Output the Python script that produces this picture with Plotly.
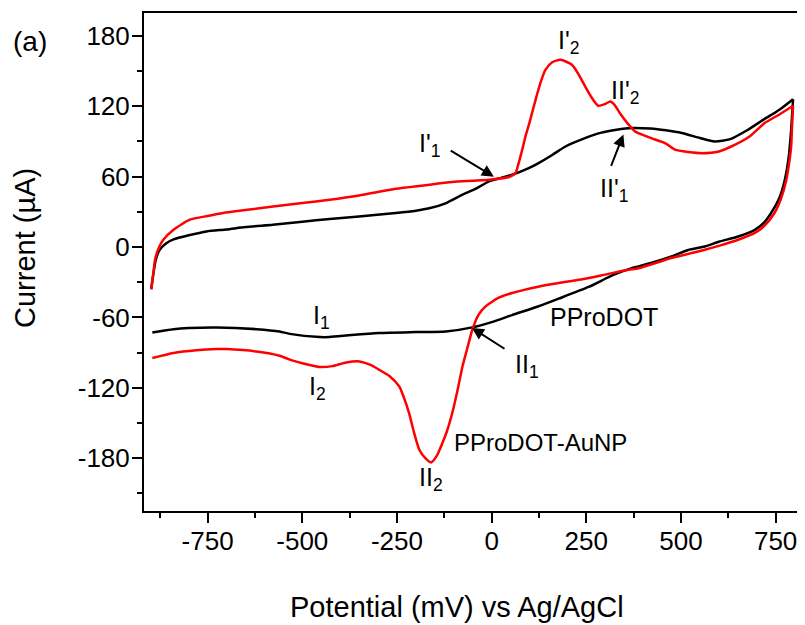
import plotly.graph_objects as go

# PProDOT (black) anodic and cathodic sweeps
ppro_fwd_x = [-899, -893, -887, -878, -860, -840, -800, -753, -700, -650, -578, -500, -428, -350, -253, -200,
              -165, -120, -77, -40, -7, 25, 54, 98, 124, 160, 195, 240, 290, 330, 370, 420, 460, 502, 550,
              589, 630, 677, 720, 760, 796]
ppro_fwd_y = [-36, -22, -11, -3, 3, 6.5, 10, 13.3, 15, 17, 19, 21.5, 24, 26, 29, 31,
              33, 37.5, 44.6, 50, 56, 59, 61.6, 67.3, 71.6, 78.5, 85.7, 92, 97.5, 100, 101.5, 101, 99.5, 97.2, 93,
              90, 92, 100, 109, 117, 126]
ppro_rev_x = [796, 793, 791, 785, 774, 760, 738, 720, 695, 651, 600, 563, 519, 475, 432, 388, 370, 320, 256,
              177, 124, 54, 0, -51, -121, -200, -297, -370, -428, -454, -533, -560, -621, -726, -800,
              -840, -896]
ppro_rev_y = [126, 110, 100, 78, 57, 42, 29, 21, 14.7, 9, 4.5, 0.5, -2.5, -8, -12.5, -16.5, -18, -24, -34,
              -44, -50.5, -58, -64, -68.5, -72, -72.5, -73.3, -75, -76.7, -76.7, -74, -72, -70, -68.5, -69,
              -70, -72.8]

# PProDOT-AuNP (red) anodic and cathodic sweeps
au_fwd_x = [-899, -893, -889, -878, -867, -840, -797, -750, -709, -650, -577, -500, -428, -350, -253, -180,
            -104, -50, -7, 46, 63, 70, 80, 90, 100, 116, 130, 142, 160, 182, 212, 230, 247, 265, 282, 300, 313,
            325, 339, 360, 379, 420, 458, 484, 520, 554, 600, 633, 680, 721, 760, 796]
au_fwd_y = [-36, -22, -11, 0, 6.2, 14.7, 23.3, 26.5, 29, 31.5, 34.6, 37.5, 40.3, 44, 49.7, 52.5,
            55.4, 56.5, 57.4, 59.7, 63, 70, 82, 95, 106, 125.5, 141, 151, 157.5, 159.6, 155.4, 147, 136.9, 127,
            120.4, 122, 124, 121, 114, 105, 98.5, 93, 88.6, 83, 81, 80, 81.5, 85.7, 94, 105.7, 113, 120.4]
au_rev_x = [796, 793, 791, 785, 778, 765, 747, 720, 695, 651, 600, 563, 475, 388, 361, 300, 240, 177, 120,
            54, 20, -16, -35, -51, -64, -77, -90, -104, -118, -130, -145, -160, -175, -191, -205, -218, -232,
            -244, -270, -297, -320, -349, -384, -420, -454, -463, -500, -533, -560, -621, -700, -726, -780,
            -840, -896]
au_rev_y = [120.4, 100, 85.7, 70, 57, 42, 29, 18, 12, 6.2, 1, -2.3, -9.4, -18, -19.4, -23.5, -27.5, -30.7,
            -34, -39.2, -43, -50.6, -58, -70.5, -86, -101.8, -122, -141.5, -157, -167, -178, -183.6, -180,
            -172.8, -158, -141.5, -128, -118.8, -110, -104.6, -100.5, -97.5, -98.4, -101.5, -102.3, -101.8, -99,
            -96, -92.6, -89, -87, -87, -88, -90.3, -94.6]

x_tick_vals = [-750, -500, -250, 0, 250, 500, 750]
x_tick_text = ["-750", "-500", "-250", "0", "250", "500", "750"]
y_tick_vals = [-180, -120, -60, 0, 60, 120, 180]
y_tick_text = ["-180", "-120", "-60", "0", "60", "120", "180"]

x_title = "Potential (mV) vs Ag/AgCl"
y_title = "Current (\u00b5A)"

FONT = "Arial, Liberation Sans, sans-serif"

fig = go.Figure()
for xs, ys, col in [(ppro_fwd_x, ppro_fwd_y, "black"), (ppro_rev_x, ppro_rev_y, "black"),
                    (au_fwd_x, au_fwd_y, "#ff0000"), (au_rev_x, au_rev_y, "#ff0000")]:
    fig.add_trace(go.Scatter(x=xs, y=ys, mode="lines", showlegend=False,
                             line=dict(color=col, width=2.5, shape="spline", smoothing=0.6)))

def sub(main, s):
    return f"{main}<sub>{s}</sub>"

labels = [
    (sub("I'", "2"), 203, 175, 25),
    (sub("II'", "2"), 353, 132, 25),
    (sub("I'", "1"), -165, 87, 25),
    (sub("II'", "1"), 322, 49, 25),
    (sub("I", "1"), -449, -60, 25),
    (sub("I", "2"), -460, -120, 25),
    (sub("II", "1"), 93, -101, 25),
    (sub("II", "2"), -160, -198, 25),
    ("PProDOT-AuNP", 128, -167, 24),
    ("PProDOT", 296, -60, 25),
]
for t, x, y, s in labels:
    fig.add_annotation(x=x, y=y, text=t, showarrow=False, xanchor="center", yanchor="middle",
                       font=dict(family=FONT, size=s, color="black"))

arrows = [((-112, 83), (6, 60)), ((314, 68), (348, 96)), ((38, -87.5), (-52, -69))]
for (tx, ty), (hx, hy) in arrows:
    fig.add_annotation(x=hx, y=hy, ax=tx, ay=ty, axref="x", ayref="y", text="", showarrow=True,
                       arrowhead=2, arrowsize=1.2, arrowwidth=2, arrowcolor="black")

fig.add_annotation(x=-0.173, y=0.942, xref="paper", yref="paper", text="(a)", showarrow=False,
                   xanchor="center", yanchor="middle",
                   font=dict(family=FONT, size=28, color="black"))

# axis titles (placed as in the reference, slightly off-centre)
fig.add_annotation(x=0.4765, y=-0.193, xref="paper", yref="paper", text=x_title, showarrow=False,
                   xanchor="center", yanchor="middle", font=dict(family=FONT, size=29, color="black"))
fig.add_annotation(x=-0.182, y=0.529, xref="paper", yref="paper", text=y_title, showarrow=False,
                   textangle=-90, xanchor="center", yanchor="middle",
                   font=dict(family=FONT, size=29, color="black"))

fig.update_layout(
    width=797, height=617,
    margin=dict(l=136, r=2, t=5, b=114),
    plot_bgcolor="white", paper_bgcolor="white",
    font=dict(family=FONT, size=26, color="black"),
    xaxis=dict(range=[-918, 817], tickvals=x_tick_vals, ticktext=x_tick_text, ticks="outside", ticklen=10,
               tickwidth=2, tickcolor="black",
               showline=True, linewidth=2, linecolor="black", mirror=True, showgrid=False, zeroline=False,
               tickfont=dict(family=FONT, size=26, color="black"), ticklabelstandoff=-4,
               minor=dict(tick0=-875, dtick=125, ticks="outside", ticklen=5, tickwidth=2, tickcolor="black")),
    yaxis=dict(range=[-225, 199.5], tickvals=y_tick_vals, ticktext=y_tick_text, ticks="outside", ticklen=10,
               tickwidth=2, tickcolor="black",
               showline=True, linewidth=2, linecolor="black", mirror=True, showgrid=False, zeroline=False,
               tickfont=dict(family=FONT, size=26, color="black"), ticklabelstandoff=-3,
               minor=dict(tick0=-210, dtick=30, ticks="outside", ticklen=5, tickwidth=2, tickcolor="black")),
)

fig.write_html("out.html")
